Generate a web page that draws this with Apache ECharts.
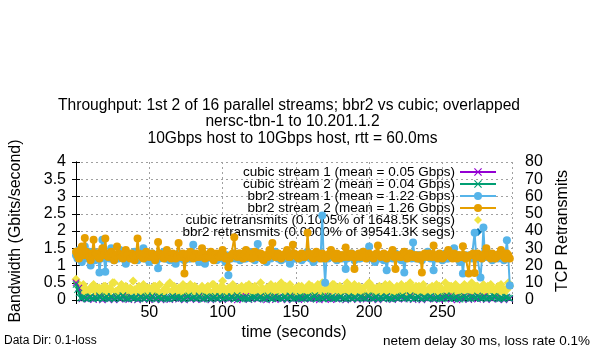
<!DOCTYPE html>
<html><head><meta charset="utf-8">
<script src="https://cdn.jsdelivr.net/npm/echarts@6/dist/echarts.min.js"></script>
<style>html,body{margin:0;padding:0;background:#fff}#c{width:600px;height:350px}</style>
</head><body><div id="c"></div>
<script>
const titleLines = [
  "Throughput: 1st 2 of 16 parallel streams; bbr2 vs cubic; overlapped",
  "nersc-tbn-1 to 10.201.1.2",
  "10Gbps host to 10Gbps host, rtt = 60.0ms"
];
const seriesNames = [
  "cubic stream 1 (mean = 0.05 Gbps)",
  "cubic stream 2 (mean = 0.04 Gbps)",
  "bbr2 stream 1 (mean = 1.22 Gbps)",
  "bbr2 stream 2 (mean = 1.26 Gbps)",
  "cubic retransmits (0.1005% of 1648.5K segs)",
  "bbr2 retransmits (0.0000% of 39541.3K segs)"
];
const xTickLabels = [50, 100, 150, 200, 250];
// 1-second samples, t = 0 .. 296 (rows of 10 seconds)
const times = [
0,1,2,3,4,5,6,7,8,9, 10,11,12,13,14,15,16,17,18,19, 20,21,22,23,24,25,26,27,28,29,
30,31,32,33,34,35,36,37,38,39, 40,41,42,43,44,45,46,47,48,49, 50,51,52,53,54,55,56,57,58,59,
60,61,62,63,64,65,66,67,68,69, 70,71,72,73,74,75,76,77,78,79, 80,81,82,83,84,85,86,87,88,89,
90,91,92,93,94,95,96,97,98,99, 100,101,102,103,104,105,106,107,108,109, 110,111,112,113,114,115,116,117,118,119,
120,121,122,123,124,125,126,127,128,129, 130,131,132,133,134,135,136,137,138,139, 140,141,142,143,144,145,146,147,148,149,
150,151,152,153,154,155,156,157,158,159, 160,161,162,163,164,165,166,167,168,169, 170,171,172,173,174,175,176,177,178,179,
180,181,182,183,184,185,186,187,188,189, 190,191,192,193,194,195,196,197,198,199, 200,201,202,203,204,205,206,207,208,209,
210,211,212,213,214,215,216,217,218,219, 220,221,222,223,224,225,226,227,228,229, 230,231,232,233,234,235,236,237,238,239,
240,241,242,243,244,245,246,247,248,249, 250,251,252,253,254,255,256,257,258,259, 260,261,262,263,264,265,266,267,268,269,
270,271,272,273,274,275,276,277,278,279, 280,281,282,283,284,285,286,287,288,289, 290,291,292,293,294,295,296];
// cubic stream 1 is sampled every 2 seconds
const times2 = [0,2,4,6,8,10,12,14,16,18,20,22,24,26,28,30,32,34,36,38,40,42,44,46,48,50,52,54,56,58,60,62,64,66,68,70,72,74,76,78,80,82,84,86,88,90,92,94,96,98,100,102,104,106,108,110,112,114,116,118,120,122,124,126,128,130,132,134,136,138,140,142,144,146,148,150,152,154,156,158,160,162,164,166,168,170,172,174,176,178,180,182,184,186,188,190,192,194,196,198,200,202,204,206,208,210,212,214,216,218,220,222,224,226,228,230,232,234,236,238,240,242,244,246,248,250,252,254,256,258,260,262,264,266,268,270,272,274,276,278,280,282,284,286,288,290,292,294,296];
const cubic1 = [0.50,0.35,0.03,0.05,0.02,0.07,0.01,0.04,0.09,0.00,
0.05,0.02,0.08,0.00,0.06,0.02,0.10,0.03,0.01,0.07,
0.04,0.00,0.08,0.03,0.06,0.01,0.09,0.02,0.05,0.00,
0.07,0.03,0.01,0.09,0.04,0.02,0.06,0.00,0.08,0.03,
0.05,0.01,0.10,0.02,0.04,0.07,0.00,0.06,0.03,0.09,
0.01,0.05,0.02,0.08,0.04,0.00,0.07,0.03,0.11,0.01,
0.04,0.06,0.02,0.09,0.03,0.00,0.07,0.04,0.01,0.08,
0.03,0.06,0.00,0.10,0.02,0.05,0.01,0.07,0.03,0.09,
0.02,0.04,0.08,0.00,0.06,0.03,0.10,0.01,0.05,0.02,
0.07,0.04,0.00,0.09,0.03,0.06,0.01,0.08,0.04,0.02,
0.10,0.03,0.05,0.00,0.07,0.02,0.09,0.04,0.01,0.06,
0.03,0.08,0.02,0.05,0.11,0.01,0.04,0.07,0.00,0.06,
0.03,0.09,0.02,0.05,0.01,0.08,0.04,0.10,0.02,0.06,
0.00,0.07,0.03,0.09,0.01,0.05,0.08,0.02,0.04,0.10,
0.01,0.06,0.03,0.08,0.02,0.05,0.00,0.07,0.03];
const cubic2 = [
0.45,0.30,0.20,0.06,0.05,0.09,0.08,0.03,0.03,0.07,
0.10,0.05,0.04,0.08,0.06,0.03,0.12,0.07,0.03,0.05,
0.07,0.10,0.05,0.03,0.11,0.06,0.02,0.05,0.08,0.11,
0.04,0.06,0.13,0.08,0.05,0.03,0.03,0.07,0.09,0.04,
0.06,0.09,0.02,0.05,0.10,0.07,0.05,0.03,0.08,0.12,
0.03,0.06,0.12,0.08,0.04,0.02,0.07,0.10,0.02,0.05,
0.09,0.06,0.05,0.03,0.03,0.08,0.11,0.05,0.06,0.09,
0.04,0.07,0.08,0.03,0.02,0.06,0.10,0.12,0.05,0.04,
0.07,0.09,0.03,0.05,0.12,0.07,0.04,0.02,0.06,0.10,
0.09,0.04,0.02,0.06,0.08,0.11,0.05,0.03,0.11,0.07,
0.03,0.05,0.07,0.10,0.04,0.06,0.10,0.08,0.02,0.04,
0.13,0.07,0.03,0.05,0.09,0.06,0.05,0.03,0.02,0.08,
0.06,0.09,0.08,0.04,0.04,0.07,0.11,0.05,0.05,0.02,
0.09,0.12,0.06,0.03,0.03,0.08,0.10,0.06,0.04,0.09,
0.05,0.03,0.08,0.10,0.02,0.06,0.12,0.09,0.03,0.05,
0.04,0.07,0.06,0.11,0.02,0.05,0.08,0.07,0.10,0.04,
0.04,0.06,0.10,0.13,0.02,0.05,0.08,0.09,0.05,0.03,
0.12,0.07,0.03,0.06,0.07,0.11,0.04,0.05,0.06,0.03,
0.09,0.10,0.06,0.04,0.02,0.05,0.11,0.08,0.05,0.03,
0.08,0.07,0.03,0.06,0.10,0.09,0.06,0.04,0.04,0.12,
0.12,0.07,0.05,0.03,0.07,0.10,0.02,0.06,0.09,0.05,
0.04,0.08,0.11,0.05,0.06,0.03,0.03,0.09,0.08,0.04,
0.05,0.07,0.10,0.12,0.04,0.06,0.07,0.03,0.13,0.08,
0.03,0.05,0.06,0.10,0.09,0.04,0.02,0.07,0.08,0.05,
0.05,0.09,0.11,0.06,0.04,0.03,0.07,0.10,0.06,0.04,
0.03,0.07,0.10,0.12,0.06,0.04,0.12,0.05,0.04,0.08,
0.08,0.03,0.02,0.06,0.09,0.11,0.05,0.07,0.03,0.05,
0.10,0.09,0.06,0.04,0.12,0.08,0.04,0.06,0.06,0.10,
0.03,0.05,0.08,0.07,0.05,0.11,0.10,0.06,0.04,0.03,
0.07,0.05,0.02,0.08,0.09,0.06,0.05];
const bbr1 = [
1.30,1.20,1.45,1.25,1.10,1.35,1.55,1.30,1.20,1.40,
1.00,1.25,1.40,1.15,1.25,1.35,0.80,1.20,1.75,1.30,
0.82,1.25,1.35,1.20,1.50,1.30,1.15,1.25,1.30,1.20,
1.45,1.25,1.20,1.35,1.05,1.25,1.35,1.20,1.25,1.30,
1.40,1.20,1.15,1.30,1.30,1.25,1.50,1.20,1.20,1.35,
1.10,1.25,1.35,1.20,1.25,1.30,0.92,1.20,1.30,1.25,
1.40,1.20,1.20,1.30,1.15,1.25,1.30,1.20,1.05,1.25,
1.35,1.20,1.25,1.30,1.15,1.25,1.30,1.20,1.20,1.35,
1.60,1.25,1.25,1.20,1.10,1.30,1.30,1.25,1.05,1.20,
1.25,1.30,1.35,1.20,1.20,1.25,1.15,1.30,1.30,1.20,
1.25,1.20,1.10,1.30,0.72,1.25,1.20,1.30,1.35,1.20,
1.25,1.30,1.15,1.25,1.30,1.20,1.20,1.35,1.40,1.25,
1.25,1.20,1.15,1.30,1.62,1.25,1.30,1.20,1.20,1.25,
1.10,1.30,1.30,1.20,1.25,1.30,1.40,1.25,1.20,1.30,
1.15,1.25,1.30,1.20,1.25,1.30,1.05,1.25,1.35,1.20,
1.20,1.30,1.30,1.25,1.15,1.20,1.25,1.30,1.40,1.25,
1.20,1.30,1.10,1.25,1.30,1.20,1.25,1.30,2.45,1.20,
0.50,1.25,1.20,1.30,1.35,1.25,1.25,1.20,1.15,1.30,
1.30,1.25,1.20,1.30,0.90,1.20,1.25,1.30,1.35,1.25,
1.15,1.30,1.30,1.20,1.20,1.25,1.40,1.30,1.25,1.20,
1.55,1.25,1.20,1.30,1.10,1.25,1.30,1.20,1.25,1.30,
1.15,1.25,0.86,1.20,1.30,1.25,1.20,1.30,1.35,1.20,
1.25,1.30,1.15,1.25,0.80,1.20,1.25,1.30,1.35,1.20,
1.67,1.25,1.20,1.30,1.30,1.20,1.15,1.25,1.25,1.30,
1.40,1.25,1.20,1.30,0.86,1.20,1.30,1.25,1.25,1.20,
1.15,1.30,1.35,1.20,1.20,1.25,1.30,1.30,1.50,1.25,
1.20,1.30,1.10,1.25,0.77,1.20,1.30,1.25,1.25,1.30,
1.20,1.25,1.95,1.30,1.20,1.25,0.65,1.20,2.10,1.25,
1.25,1.30,1.35,1.20,1.15,1.25,1.30,1.25,1.20,1.30,
1.25,1.20,1.15,1.30,1.73,1.20,0.42];
const bbr2 = [
1.40,1.30,1.20,1.45,1.55,1.30,1.80,1.40,1.30,1.25,
1.15,1.35,1.75,1.30,1.35,1.25,1.20,1.40,1.50,1.30,
1.78,1.30,1.25,1.35,1.40,1.25,1.15,1.30,1.55,1.35,
1.30,1.25,1.20,1.35,1.45,1.30,1.25,1.20,1.35,1.30,
1.15,1.30,1.78,1.35,1.30,1.25,1.20,1.35,1.40,1.30,
1.25,1.30,1.35,1.25,1.15,1.30,1.68,1.35,1.30,1.25,
1.20,1.35,1.45,1.30,1.25,1.20,1.35,1.30,1.20,1.25,
1.65,1.30,1.25,1.35,0.77,1.20,1.30,1.35,1.40,1.25,
1.20,1.30,1.35,1.25,1.25,1.30,1.50,1.35,1.20,1.25,
1.30,1.25,1.40,1.35,1.15,1.30,1.35,1.25,1.25,1.30,
1.45,1.30,1.20,1.25,0.95,1.20,1.30,1.35,1.82,1.30,
1.25,1.35,1.35,1.25,1.20,1.30,1.45,1.25,1.30,1.35,
1.20,1.25,1.40,1.30,1.25,1.35,1.35,1.20,1.15,1.30,
1.30,1.25,1.45,1.30,1.65,1.35,1.25,1.30,1.35,1.25,
1.20,1.30,1.30,1.35,1.45,1.25,1.25,1.30,1.60,1.35,
1.30,1.25,1.20,1.30,1.35,1.25,1.25,1.30,1.95,1.35,
1.30,1.25,1.20,1.35,1.40,1.30,1.25,1.20,1.35,1.30,
1.20,1.25,1.30,1.35,1.45,1.30,1.25,1.20,1.35,1.30,
1.20,1.30,1.30,1.25,1.52,1.35,1.25,1.30,1.35,1.25,
0.90,1.25,1.30,1.35,1.25,1.30,1.40,1.25,1.20,1.30,
1.35,1.30,1.25,1.20,1.30,1.35,1.58,1.30,1.25,1.30,
1.35,1.25,1.20,1.30,1.30,1.35,1.45,1.25,0.90,1.30,
1.30,1.25,1.25,1.35,1.40,1.30,1.20,1.25,1.35,1.30,
1.25,1.30,1.30,1.20,1.20,1.30,0.80,1.25,1.35,1.30,
1.25,1.35,1.30,1.25,1.58,1.30,1.25,1.20,1.35,1.30,
1.20,1.25,1.30,1.35,1.45,1.30,1.25,1.20,1.35,1.30,
1.20,1.30,1.30,1.25,1.56,1.30,1.20,1.25,0.77,1.30,
1.30,1.35,0.78,1.25,1.35,1.30,1.25,1.20,1.30,1.35,
1.50,1.30,1.25,1.20,1.35,1.30,1.20,1.25,1.30,1.35,
1.45,1.30,1.25,1.20,1.35,1.30,1.20];
const cubicRetrans = [
12,10,8,6,5,9,7,4,3,6,
6,8,9,5,4,7,7,3,5,8,
8,4,3,7,6,10,10,5,4,6,
7,9,5,3,8,6,4,7,6,11,
6,4,3,8,7,5,9,6,3,7,
7,4,5,8,8,6,4,9,3,5,
4,7,6,9,10,5,5,8,3,6,
7,4,6,9,8,3,4,7,9,6,
5,8,7,4,3,6,8,5,4,7,
8,5,4,9,9,6,7,3,5,8,
11,7,4,6,7,5,5,9,8,3,
6,7,3,8,6,4,8,5,9,6,
4,7,8,5,6,3,10,7,4,6,
7,5,5,9,3,6,8,4,7,9,
10,6,5,8,4,7,9,3,6,5,
7,4,8,6,8,5,3,7,4,9,
6,8,4,5,7,9,3,6,10,5,
6,7,8,4,5,9,9,6,7,3,
8,5,5,7,6,10,4,8,3,6,
9,6,4,8,7,5,7,4,3,9,
10,6,8,5,3,7,5,8,4,6,
6,9,4,7,9,5,7,3,5,8,
4,6,9,5,6,8,3,7,10,4,
7,5,8,6,8,4,5,9,6,3,
4,7,6,8,7,5,9,4,8,6,
6,3,10,7,4,8,8,5,6,9,
3,7,7,4,5,9,8,6,7,3,
10,5,6,8,8,4,3,7,9,5,
4,8,6,9,7,5,5,3,8,6,
9,7,4,6,6,10,8];
const bbr2Retrans = [];

const FONT = 'Liberation Sans, Arial, sans-serif';
const pair = (ts, arr) => arr.map((v, i) => [ts[i], v]);
const crossPath = 'path://M0,1L1,0L5,4L9,0L10,1L6,5L10,9L9,10L5,6L1,10L0,9L4,5Z';
const colors = ['#9400d3', '#009e73', '#56b4e9', '#e69f00', '#f0e442', '#0072b2'];

function lineSeries(idx, ts, arr, symbol, size, z, yIdx, hideLine) {
  return {
    name: seriesNames[idx], type: 'line', data: pair(ts, arr),
    xAxisIndex: 0, yAxisIndex: yIdx, z: z,
    symbol: symbol, symbolSize: size, showAllSymbol: true,
    lineStyle: { color: colors[idx], width: 2, opacity: hideLine ? 0 : 1 },
    itemStyle: { color: colors[idx] },
    emphasis: { disabled: true }, clip: false
  };
}

const chart = echarts.init(document.getElementById('c'), null, { renderer: 'canvas' });
const axisCommon = {
  axisLine: { show: true, lineStyle: { color: '#000', width: 1 } },
  axisTick: { show: true, inside: true, length: 4, lineStyle: { color: '#000' } },
};
chart.setOption({
  animation: false,
  backgroundColor: '#fff',
  grid: { left: 73, right: 88, top: 162, bottom: 50, containLabel: false },
  legend: {
    orient: 'vertical', right: 103, top: 165, align: 'right', padding: 0,
    itemWidth: 36, itemHeight: 10, itemGap: -2,
    textStyle: { fontFamily: FONT, fontSize: 13.5, color: '#000', lineHeight: 12 },
    data: seriesNames, selectedMode: false
  },
  xAxis: [
    Object.assign({
      type: 'value', min: 0, max: 297.5, interval: 50, position: 'bottom',
      axisLabel: { fontFamily: FONT, fontSize: 16, color: '#000', margin: 5,
        formatter: v => (xTickLabels.indexOf(v) >= 0 ? String(v) : '') },
      splitLine: { show: true, lineStyle: { color: '#a0a0a0', type: [2, 3], width: 1 } },
      name: 'time (seconds)', nameLocation: 'middle', nameGap: 25,
      nameTextStyle: { fontFamily: FONT, fontSize: 16, color: '#000' }
    }, axisCommon),
    Object.assign({
      type: 'value', min: 0, max: 297.5, interval: 50, position: 'top',
      axisLabel: { show: false }, splitLine: { show: false }
    }, axisCommon)
  ],
  yAxis: [
    Object.assign({
      type: 'value', min: 0, max: 4, interval: 0.5, position: 'left',
      axisLabel: { fontFamily: FONT, fontSize: 16, color: '#000', margin: 10 },
      splitLine: { show: true, lineStyle: { color: '#a0a0a0', type: [2, 3], width: 1 } },
      name: 'Bandwidth (Gbits/second)', nameLocation: 'middle', nameGap: 52, nameRotate: 90,
      nameTextStyle: { fontFamily: FONT, fontSize: 16, color: '#000' }
    }, axisCommon),
    Object.assign({
      type: 'value', min: 0, max: 80, interval: 10, position: 'right',
      axisLabel: { fontFamily: FONT, fontSize: 16, color: '#000', margin: 13 },
      splitLine: { show: false },
      name: 'TCP Retransmits', nameLocation: 'middle', nameGap: 43, nameRotate: 90,
      nameTextStyle: { fontFamily: FONT, fontSize: 16, color: '#000' }
    }, axisCommon)
  ],
  series: [
    lineSeries(0, times2, cubic1, crossPath, 7, 3, 0, false),
    lineSeries(1, times, cubic2, crossPath, 7, 4, 0, false),
    lineSeries(2, times, bbr1, 'circle', 8, 5, 0, false),
    lineSeries(3, times, bbr2, 'circle', 8, 6, 0, false),
    lineSeries(4, times, cubicRetrans, 'diamond', 9, 2, 1, true),
    lineSeries(5, times, bbr2Retrans, 'diamond', 9, 7, 1, true)
  ],
  graphic: [
    { type: 'text', x: 289, y: 106, style: { text: titleLines[0], font: '15.6px ' + FONT, fill: '#000', align: 'center', verticalAlign: 'middle' } },
    { type: 'text', x: 292.5, y: 122, style: { text: titleLines[1], font: '15.6px ' + FONT, fill: '#000', align: 'center', verticalAlign: 'middle' } },
    { type: 'text', x: 292.5, y: 139, style: { text: titleLines[2], font: '15.6px ' + FONT, fill: '#000', align: 'center', verticalAlign: 'middle' } },
    { type: 'text', x: 4, y: 341, style: { text: 'Data Dir: 0.1-loss', font: '12px ' + FONT, fill: '#000', align: 'left', verticalAlign: 'middle' } },
    { type: 'text', x: 590, y: 341, style: { text: 'netem delay 30 ms, loss rate 0.1%', font: '13.5px ' + FONT, fill: '#000', align: 'right', verticalAlign: 'middle' } }
  ]
});
</script></body></html>
